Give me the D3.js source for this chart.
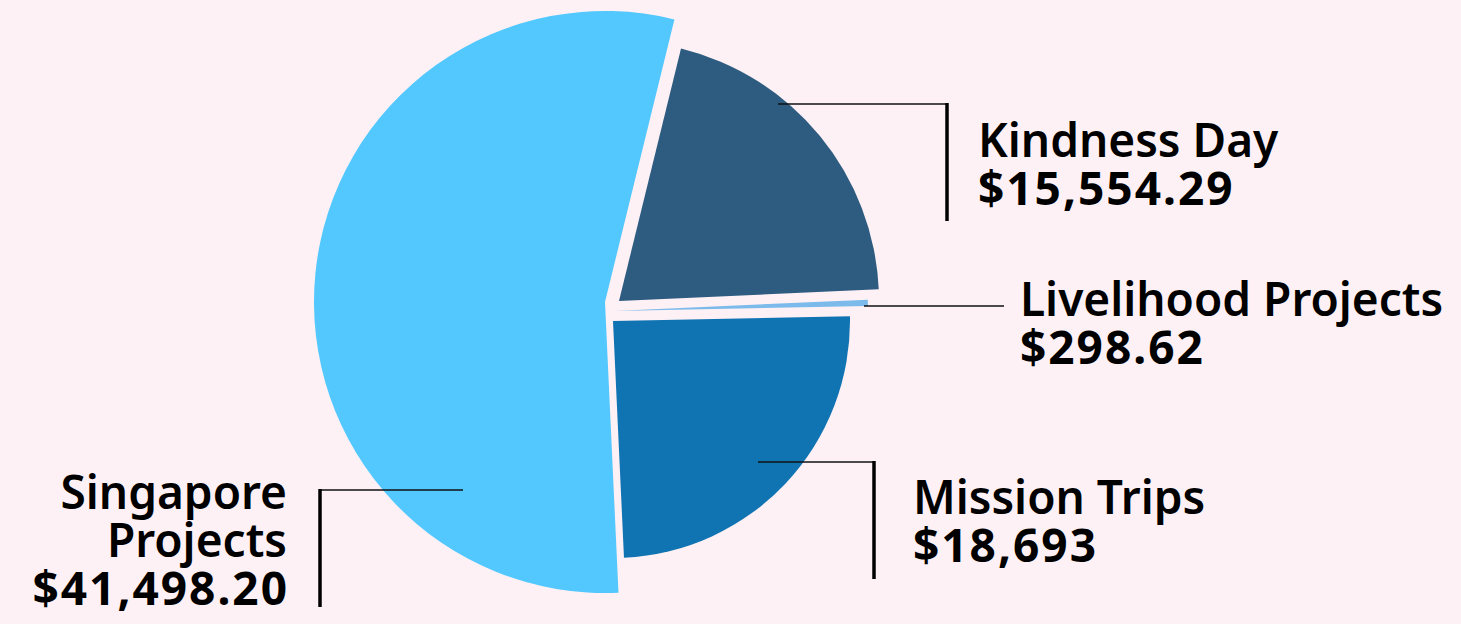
<!DOCTYPE html>
<html><head><meta charset="utf-8">
<script src="https://cdn.jsdelivr.net/npm/d3@7"></script>
<style>html,body{margin:0;padding:0;background:#FDF1F5;}svg{display:block;}</style>
</head><body>
<svg id="chart" width="1461" height="624"></svg>
<script>
// ---- data ----
const categories = ["Kindness Day", "Livelihood Projects", "Mission Trips", "Singapore Projects"];
const values = [15554.29, 298.62, 18693, 41498.20];
const valueLabels = ["$15,554.29", "$298.62", "$18,693", "$41,498.20"];

// ---- layout / style ----
const W = 1461, H = 624;
const center = [609, 309];
const startDeg = 13.8;
const colors = ["#2E5B80", "#7BBAEA", "#1074B3", "#52C8FF"];
const radii = [260, 254, 237, 291];
const offsets = [[10, -8], [5, 2], [4, 12], [-4, -7]];
const labelLayout = [
  {ls:[778,104], corner:[947,104], vEnd:221, tx:978, ty:157, anchor:"start", name:["Kindness Day"]},
  {ls:[864,306], corner:[1004,306], vEnd:null, tx:1020, ty:316, anchor:"start", name:["Livelihood Projects"]},
  {ls:[758,462], corner:[874,462], vEnd:579, tx:913, ty:514, anchor:"start", name:["Mission Trips"]},
  {ls:[463,490], corner:[320,490], vEnd:607, tx:287, ty:509, anchor:"end", name:["Singapore","Projects"]}
];

const svg = d3.select("#chart");
svg.append("rect").attr("width", W).attr("height", H).attr("fill", "#FDF1F5");

const a0 = startDeg * Math.PI / 180;
const pie = d3.pie().sort(null).startAngle(a0).endAngle(a0 + 2 * Math.PI);
const arcs = pie(values);

const g = svg.append("g").attr("transform", `translate(${center[0]},${center[1]})`);
g.selectAll("path").data(arcs).enter().append("path")
  .attr("transform", (d, i) => `translate(${offsets[i][0]},${offsets[i][1]})`)
  .attr("d", (d, i) => d3.arc().innerRadius(0).outerRadius(radii[i])(d))
  .attr("fill", (d, i) => colors[i]);

const font = "'Noto Sans', sans-serif";
const fs = 46, lh = 48;
labelLayout.forEach((L, i) => {
  svg.append("line").attr("x1", L.ls[0]).attr("y1", L.ls[1]).attr("x2", L.corner[0]).attr("y2", L.corner[1])
    .attr("stroke", "#111").attr("stroke-width", 1.6);
  if (L.vEnd !== null) {
    svg.append("line").attr("x1", L.corner[0]).attr("y1", L.corner[1] - 1).attr("x2", L.corner[0]).attr("y2", L.vEnd)
      .attr("stroke", "#000").attr("stroke-width", 3.5);
  }
  const t = svg.append("text").attr("font-family", font).attr("font-size", fs).attr("fill", "#000")
    .attr("text-anchor", L.anchor);
  L.name.forEach((n, k) => {
    t.append("tspan").attr("font-weight", 600)
      .attr("x", L.tx).attr("y", L.ty + k * lh).text(n);
  });
  t.append("tspan").attr("font-weight", 700).attr("letter-spacing", 2)
    .attr("x", L.anchor === "end" ? L.tx + 2 : L.tx).attr("y", L.ty + L.name.length * lh).text(valueLabels[i]);
});
</script>
</body></html>
